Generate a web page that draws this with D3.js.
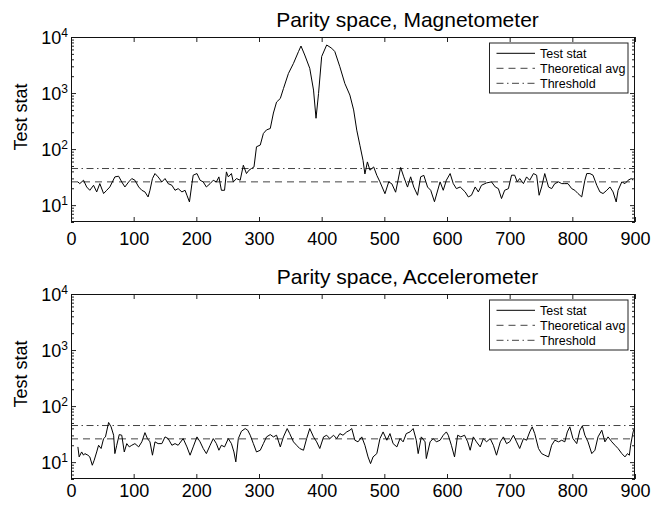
<!DOCTYPE html>
<html><head><meta charset="utf-8">
<script src="https://cdn.jsdelivr.net/npm/d3@7"></script>
<style>
body{margin:0;background:#fff}
svg{display:block}
text{font-family:"Liberation Sans",Arial,Helvetica,sans-serif;fill:#000}
</style>
</head><body>
<svg id="chart" width="654" height="505"></svg>
<script>
// ---------- data ----------
const titles = ["Parity space, Magnetometer", "Parity space, Accelerometer"];
const yLabel = "Test stat";
const legendLabels = ["Test stat", "Theoretical avg", "Threshold"];
const xTicks = [0, 100, 200, 300, 400, 500, 600, 700, 800, 900];
const yTicks = [10, 100, 1000, 10000];
const theoreticalAvg = 26;
const thresholdLevel = 45;

const magSteps = [
  11,14,20,25,30,36,41,46,52,57,
  62,70,76,81,86,92,97,102,108,113,
  118,123,126,130,134,139,145,150,155,161,
  166,171,177,182,185,189,193,195,201,206,
  211,216,222,227,232,236,240,245,248,251,
  256,259,264,270,275,280,284,288,292,296,
  302,307,312,318,323,328,334,339,347,355,
  363,367,373,381,387,391,395,400,408,416,
  421,429,437,445,451,456,461,466,469,473,
  477,483,488,493,501,507,512,518,526,531,
  537,542,547,553,558,563,569,574,580,589,
  594,599,605,610,615,621,629,634,639,645,
  650,655,663,671,677,682,687,692,698,703,
  708,712,716,722,727,732,738,743,747,751,
  756,762,767,772,778,783,788,793,799,804,
  809,815,820,823,828,833,839,844,849,855,
  860,865,870,873,879,884,889,894,897
];
const magValues = [
  25.9,24.2,27.8,21.1,18.4,22.6,17.2,24.2,16.1,18.4,
  21.1,31.9,32.8,25.9,21.1,25.9,29.8,27.8,21.1,18.4,
  17.2,14,18.4,29.8,36.6,31.9,25.9,29.8,24.2,22.6,
  18.4,19.7,17.2,18.4,15,11.4,24.2,34.2,36.6,27.8,
  25.9,21.1,24.2,27.8,25.9,31.9,18.4,18.4,39.2,31.9,
  36.6,25.9,29.8,27.8,51.5,36.6,42,45,48,110,
  118,190,220,233,440,690,800,1200,2240,3380,
  5480,6900,4770,2760,1130,355,980,4480,7200,6300,
  5500,2950,1480,920,500,218,117,63,36,59,
  42,48,34,26,16,26,24,17,47,32,
  21,32,21,15,32,34,21,18.4,11.5,26,
  18.4,27.8,36.6,24.2,19.7,21.1,17.2,14,15,21.1,
  17.2,22.6,24.9,26,21.1,19.7,13.1,18.4,19.7,34.2,
  34.2,26,29.8,24.2,31.9,27.8,36.6,34.2,15,21.1,
  36.6,21.1,19.7,24.2,26,24.2,24.2,24.2,19.7,18.4,
  16.1,14,27.8,36.6,36.6,34.2,22.6,17.2,16.1,18.4,
  21.1,17.2,11.4,18.4,26,24.2,27.8,29.8,27.8
];

const accSteps = [
  11,13,17,20,22,27,30,34,37,41,
  44,48,52,55,60,64,68,70,73,77,
  81,85,89,93,97,102,108,113,118,122,
  126,130,134,139,145,150,155,161,166,171,
  179,185,190,195,201,206,211,216,222,227,
  232,236,240,245,251,256,260,263,267,272,
  278,282,286,291,296,302,307,312,318,323,
  328,334,339,345,349,355,360,365,371,376,
  381,387,392,397,403,408,413,419,424,429,
  434,440,445,448,453,458,464,469,474,478,
  482,488,493,498,504,509,514,520,525,530,
  535,541,546,551,554,559,565,567,573,578,
  583,589,594,599,602,607,612,617,622,628,
  633,637,642,647,653,658,663,669,674,679,
  685,690,695,700,706,711,716,722,727,732,
  736,740,746,751,756,762,767,772,778,783,
  788,792,796,801,807,812,816,820,825,831,
  836,841,847,852,857,863,868,873,879,884,
  888,891,893,897,899
];
const accValues = [
  18.7,12.4,15.2,13.3,14.2,13.3,12.4,8.8,10.8,15.2,
  20,17.5,26.3,28.2,51,42.6,30.2,14.2,20,31,
  30.2,15.2,21.4,18.7,20,21.4,18.7,23,33.6,26.3,
  23,13.3,23,21.4,21.4,28.2,26.3,20,21.4,20,
  26.3,18.7,13.3,18.7,28.2,23,17.5,14.2,20,26.3,
  21.4,16.3,20,18.7,26.3,21.4,15.2,10.1,26.3,35.6,
  39.7,37.1,30.2,21.4,15.2,16.3,21.4,28.2,31,28.2,
  30.2,18.7,28.2,39.7,32.3,23,20,17.5,16.3,26.3,
  39.7,28.2,23,17.5,28.2,30.2,26.3,30.2,26.3,32.3,
  30.2,34.6,37.1,39.7,24.6,23,28.2,20,12.4,9.4,
  12.4,14.2,26.3,34.6,24.6,32.3,21.4,18.7,26.3,23,
  32.3,34.6,39.7,24.6,14.2,28.2,23,11.6,23,26.3,
  23,24.6,30.2,34.6,30.2,20,12.4,30.2,28.2,30.2,
  23,16.3,28.2,23,18.7,26.3,23,26.3,20,13.3,
  23,28.2,21.4,23,30.2,23,17.5,26.3,24.6,34.6,
  42.6,32.3,17.5,14.2,13.3,12.4,20,24.6,23,24.6,
  23,34.6,42.6,26.3,21.4,37.1,44.4,30.2,23,14.2,
  16.3,28.2,37.1,23,28.2,23,20,17.5,14.2,12.4,
  14.2,13.3,20,34.6,39.7
];

// ---------- layout ----------
const svg = d3.select("#chart");
const left = 71, right = 635;
const panels = [
  {top: 37, bottom: 222, title: titles[0], steps: magSteps, values: magValues, labelPad: 10},
  {top: 294, bottom: 479, title: titles[1], steps: accSteps, values: accValues, labelPad: 5}
];
const lineColor = "#000", refColor = "#444";
const dashAvg = "7,5", dashThr = "7,3.5,1.5,3.5";

const x = d3.scaleLinear().domain([0, 900]).range([left, right]);

const minorTicks = [];
[1, 10, 100, 1000].forEach(d => { for (let k = 2; k <= 9; k++) { const v = k * d; if (v >= 5 && v < 10000) minorTicks.push(v); } });

panels.forEach((p, i) => {
  const y = d3.scaleLog().domain([5, 10000]).range([p.bottom, p.top]);
  const g = svg.append("g");
  const clipId = "clip" + i;
  svg.append("clipPath").attr("id", clipId).append("rect")
    .attr("x", left).attr("y", p.top).attr("width", right - left).attr("height", p.bottom - p.top);

  // reference lines
  const plot = g.append("g").attr("clip-path", `url(#${clipId})`);
  plot.append("line").attr("x1", x(0)).attr("x2", x(900)).attr("y1", y(theoreticalAvg)).attr("y2", y(theoreticalAvg))
    .attr("stroke", refColor).attr("stroke-width", 1).attr("stroke-dasharray", dashAvg);
  plot.append("line").attr("x1", x(0)).attr("x2", x(900)).attr("y1", y(thresholdLevel)).attr("y2", y(thresholdLevel))
    .attr("stroke", refColor).attr("stroke-width", 1).attr("stroke-dasharray", dashThr);

  // data line
  const pts = p.steps.map((s, j) => [s, p.values[j]]);
  plot.append("path").datum(pts)
    .attr("fill", "none").attr("stroke", lineColor).attr("stroke-width", 1).attr("stroke-linejoin", "round")
    .attr("d", d3.line().x(d => x(d[0])).y(d => y(d[1])));

  // axes (ticks inward)
  const xb = g.append("g").attr("transform", `translate(0,${p.bottom})`)
    .call(d3.axisBottom(x).tickValues(xTicks).tickSizeInner(-5).tickSizeOuter(0).tickPadding(p.labelPad));
  xb.selectAll("text").attr("font-size", 18).attr("font-family", "Liberation Sans, Arial, sans-serif");
  const xt = g.append("g").attr("transform", `translate(0,${p.top})`)
    .call(d3.axisTop(x).tickValues(xTicks).tickSizeInner(-5).tickSizeOuter(0).tickFormat(""));

  const yl = g.append("g").attr("transform", `translate(${left},0)`)
    .call(d3.axisLeft(y).tickValues(yTicks).tickSizeInner(-5).tickSizeOuter(0).tickPadding(3).tickFormat(""));
  yl.selectAll(".tick text").each(function(d) {
    const t = d3.select(this).attr("dy", "0.38em").attr("font-size", 18).attr("font-family", "Liberation Sans, Arial, sans-serif");
    t.text(null);
    t.append("tspan").text("10");
    t.append("tspan").attr("font-size", 12).attr("dy", "-0.6em").text(String(Math.round(Math.log10(d))));
  });
  g.append("g").attr("transform", `translate(${left},0)`)
    .call(d3.axisLeft(y).tickValues(minorTicks).tickSizeInner(-3).tickSizeOuter(0).tickFormat(""));
  g.append("g").attr("transform", `translate(${right},0)`)
    .call(d3.axisRight(y).tickValues(yTicks).tickSizeInner(-5).tickSizeOuter(0).tickFormat(""));
  g.append("g").attr("transform", `translate(${right},0)`)
    .call(d3.axisRight(y).tickValues(minorTicks).tickSizeInner(-3).tickSizeOuter(0).tickFormat(""));

  g.selectAll(".domain").remove();
  g.selectAll(".tick line").attr("stroke", "#222");

  // frame
  g.append("rect").attr("x", left + 0.5).attr("y", p.top + 0.5)
    .attr("width", right - left - 1).attr("height", p.bottom - p.top - 1)
    .attr("fill", "none").attr("stroke", "#111").attr("stroke-width", 1);

  // title
  g.append("text").attr("x", 407.5).attr("y", p.top - 10.3).attr("text-anchor", "middle")
    .attr("font-size", 21).text(p.title);

  // y label
  g.append("text").attr("transform", `translate(26.5,${p.top + 80}) rotate(-90)`)
    .attr("text-anchor", "middle").attr("font-size", 18).text(yLabel);

  // legend
  const lg = g.append("g").attr("transform", `translate(489.5,${p.top + 6})`);
  lg.append("rect").attr("x", 0).attr("y", 0).attr("width", 138.5).attr("height", 50)
    .attr("fill", "#fff").attr("stroke", "#222").attr("stroke-width", 1);
  const styles = [{c: lineColor, d: null}, {c: refColor, d: dashAvg}, {c: refColor, d: dashThr}];
  legendLabels.forEach((lab, k) => {
    const ry = 10.3 + k * 15;
    lg.append("line").attr("x1", 7).attr("x2", 45.5).attr("y1", ry).attr("y2", ry)
      .attr("stroke", styles[k].c).attr("stroke-width", 1).attr("stroke-dasharray", styles[k].d);
    lg.append("text").attr("x", 50.5).attr("y", ry + 4.5).attr("font-size", 12.5).text(lab);
  });
});
</script>
</body></html>
